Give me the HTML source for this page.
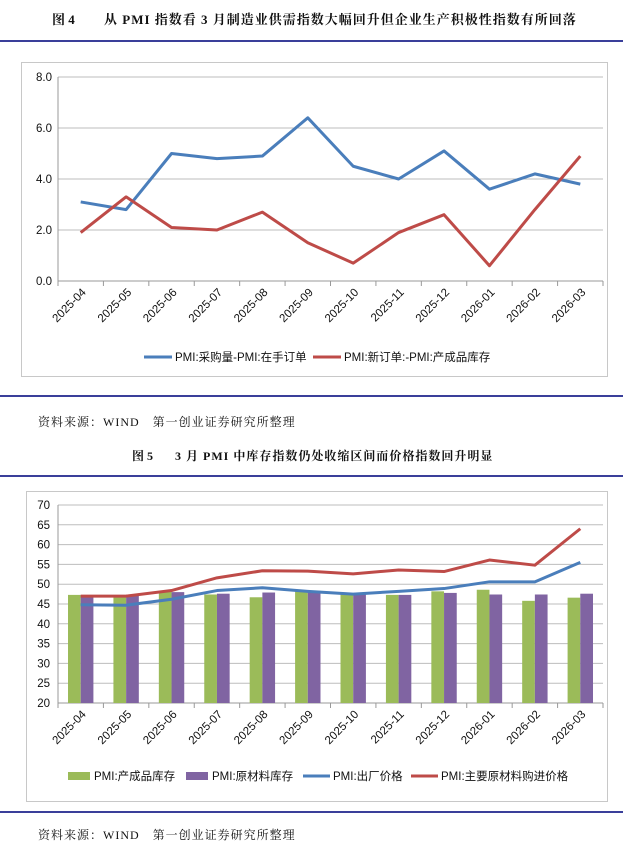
<!DOCTYPE html>
<html><head><meta charset="utf-8"><style>
html,body{margin:0;padding:0;background:#fff;width:623px;height:845px;overflow:hidden}
svg{display:block}
.t{font-family:"Liberation Sans","Noto Sans CJK SC",sans-serif}
.s{font-family:"Liberation Serif","Noto Serif CJK SC",serif}
</style></head><body>
<svg width="623" height="845" viewBox="0 0 623 845" xmlns="http://www.w3.org/2000/svg">
<text x="52" y="24" class="s" font-size="13" font-weight="bold" fill="#111">图 4</text>
<text x="104" y="24" class="s" font-size="13" font-weight="bold" fill="#111" letter-spacing="1">从 PMI 指数看 3 月制造业供需指数大幅回升但企业生产积极性指数有所回落</text>
<rect x="0" y="40" width="623" height="2" fill="#3a3f9a"/>
<rect x="21.5" y="62.5" width="586" height="314" fill="#fff" stroke="#c8c8c8"/>
<g stroke="#bdbdbd" stroke-width="1">
<line x1="58" y1="77" x2="603" y2="77"/><line x1="58" y1="128" x2="603" y2="128"/>
<line x1="58" y1="179" x2="603" y2="179"/><line x1="58" y1="230" x2="603" y2="230"/>
<line x1="58" y1="281" x2="603" y2="281" stroke="#999"/>
<line x1="58" y1="77" x2="58" y2="281" stroke="#999"/>
</g>
<g class="t" font-size="11.5" fill="#111" text-anchor="end">
<text x="52" y="81">8.0</text><text x="52" y="132">6.0</text><text x="52" y="183">4.0</text><text x="52" y="234">2.0</text><text x="52" y="285">0.0</text>
</g>
<g id="ticks1" stroke="#999"></g>
<g id="lab1" class="t" font-size="11.5" fill="#111"></g>
<polyline id="b1" fill="none" stroke="#4a7ebb" stroke-width="3" stroke-linejoin="round"/>
<polyline id="r1" fill="none" stroke="#be4b48" stroke-width="3" stroke-linejoin="round"/>
<line x1="144" y1="357" x2="172" y2="357" stroke="#4a7ebb" stroke-width="3"/>
<text x="175" y="361" class="t" font-size="11.5" fill="#111">PMI:采购量-PMI:在手订单</text>
<line x1="313" y1="357" x2="341" y2="357" stroke="#be4b48" stroke-width="3"/>
<text x="344" y="361" class="t" font-size="11.5" fill="#111">PMI:新订单:-PMI:产成品库存</text>
<rect x="0" y="395" width="623" height="2" fill="#3a3f9a"/>
<text x="38" y="426" class="s" font-size="12" fill="#111" letter-spacing="1">资料来源：WIND　第一创业证券研究所整理</text>
<text x="132" y="460" class="s" font-size="12" font-weight="bold" fill="#111">图 5</text>
<text x="175" y="460" class="s" font-size="12" font-weight="bold" fill="#111" letter-spacing="1">3 月 PMI 中库存指数仍处收缩区间而价格指数回升明显</text>
<rect x="0" y="475" width="623" height="2" fill="#3a3f9a"/>
<rect x="26.5" y="491.5" width="581" height="310" fill="#fff" stroke="#c8c8c8"/>
<g id="grid2" stroke="#bdbdbd"></g>
<g id="ylab2" class="t" font-size="11.5" fill="#111" text-anchor="end"></g>
<g id="bars"></g>
<g id="ticks2" stroke="#999"></g>
<g id="lab2" class="t" font-size="11.5" fill="#111"></g>
<polyline id="b2" fill="none" stroke="#4a7ebb" stroke-width="3" stroke-linejoin="round"/>
<polyline id="r2" fill="none" stroke="#be4b48" stroke-width="3" stroke-linejoin="round"/>
<rect x="68" y="772" width="22" height="8" fill="#9bbb59"/>
<text x="94" y="780" class="t" font-size="11.5" fill="#111">PMI:产成品库存</text>
<rect x="186" y="772" width="22" height="8" fill="#8064a2"/>
<text x="212" y="780" class="t" font-size="11.5" fill="#111">PMI:原材料库存</text>
<line x1="303" y1="776" x2="330" y2="776" stroke="#4a7ebb" stroke-width="3"/>
<text x="333" y="780" class="t" font-size="11.5" fill="#111">PMI:出厂价格</text>
<line x1="411" y1="776" x2="438" y2="776" stroke="#be4b48" stroke-width="3"/>
<text x="441" y="780" class="t" font-size="11.5" fill="#111">PMI:主要原材料购进价格</text>
<rect x="0" y="811" width="623" height="2" fill="#3a3f9a"/>
<text x="38" y="839" class="s" font-size="12" fill="#111" letter-spacing="1">资料来源：WIND　第一创业证券研究所整理</text>
</svg>
<script>
var NS="http://www.w3.org/2000/svg";
function el(p,t,a,txt){var e=document.createElementNS(NS,t);for(var k in a)e.setAttribute(k,a[k]);if(txt)e.textContent=txt;document.getElementById(p).appendChild(e);}
var cats=["2025-04","2025-05","2025-06","2025-07","2025-08","2025-09","2025-10","2025-11","2025-12","2026-01","2026-02","2026-03"];
var L=58,R=603,w=(R-L)/12;
function cx(i){return L+w*(i+0.5);}
var b1=[3.1,2.8,5.0,4.8,4.9,6.4,4.5,4.0,5.1,3.6,4.2,3.8],r1=[1.9,3.3,2.1,2.0,2.7,1.5,0.7,1.9,2.6,0.6,2.8,4.9];
function y1(v){return 281-v*25.5;}
document.getElementById("b1").setAttribute("points",b1.map(function(v,i){return cx(i)+","+y1(v)}).join(" "));
document.getElementById("r1").setAttribute("points",r1.map(function(v,i){return cx(i)+","+y1(v)}).join(" "));
for(var i=0;i<=12;i++)el("ticks1","line",{x1:L+w*i,y1:281,x2:L+w*i,y2:286});
cats.forEach(function(c,i){el("lab1","text",{x:cx(i)+6,y:293,"text-anchor":"end",transform:"rotate(-45 "+(cx(i)+6)+" 293)"},c);});
function y2(v){return 703-(v-20)*3.96;}
for(var v=20;v<=70;v+=5){el("grid2","line",{x1:L,y1:y2(v),x2:R,y2:y2(v),stroke:v==20?"#999":"#bdbdbd"});el("ylab2","text",{x:50,y:y2(v)+4},""+v);}
el("grid2","line",{x1:L,y1:y2(70),x2:L,y2:703,stroke:"#999"});
var g=[47.3,46.8,48.2,47.4,46.7,48.3,47.6,47.3,48.2,48.6,45.8,46.6],p=[47.2,47.4,48.0,47.6,47.9,48.3,47.8,47.3,47.8,47.4,47.4,47.6];
var b2=[44.8,44.7,46.2,48.4,49.1,48.2,47.5,48.2,48.9,50.6,50.6,55.5],r2=[47.0,47.0,48.4,51.6,53.4,53.3,52.6,53.6,53.2,56.1,54.8,64.0];
for(var i=0;i<12;i++){var c=cx(i);
el("bars","rect",{x:c-12.7,y:y2(g[i]),width:12.7,height:703-y2(g[i]),fill:"#9bbb59"});
el("bars","rect",{x:c,y:y2(p[i]),width:12.7,height:703-y2(p[i]),fill:"#8064a2"});}
document.getElementById("b2").setAttribute("points",b2.map(function(v,i){return cx(i)+","+y2(v)}).join(" "));
document.getElementById("r2").setAttribute("points",r2.map(function(v,i){return cx(i)+","+y2(v)}).join(" "));
for(var i=0;i<=12;i++)el("ticks2","line",{x1:L+w*i,y1:703,x2:L+w*i,y2:708});
cats.forEach(function(c,i){el("lab2","text",{x:cx(i)+6,y:715,"text-anchor":"end",transform:"rotate(-45 "+(cx(i)+6)+" 715)"},c);});
</script>
</body></html>
